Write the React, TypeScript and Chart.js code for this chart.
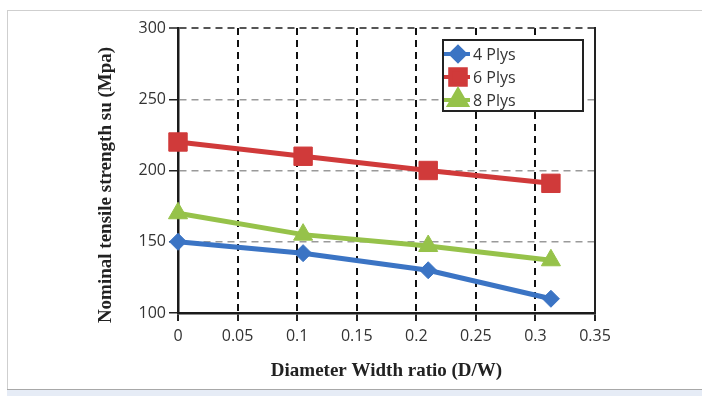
import React, { useEffect, useRef } from 'react';
import { Chart, registerables } from 'chart.js';
import { drawPoint } from 'chart.js/helpers';

Chart.register(...registerables);

const ratios = [0, 0.105, 0.21, 0.313];
const plys4 = [150, 142, 130, 110];
const plys6 = [220, 210, 200, 191];
const plys8 = [170, 155, 147, 137];
const seriesLabels = ['4 Plys', '6 Plys', '8 Plys'];
const xTickLabels = ['0', '0.05', '0.1', '0.15', '0.2', '0.25', '0.3', '0.35'];
const yTickLabels = ['100', '150', '200', '250', '300'];
const xTitle = 'Diameter Width ratio (D/W)';
const yTitle = 'Nominal tensile strength su (Mpa)';

const toPoints = (ys: number[]) => ys.map((y, i) => ({ x: ratios[i], y }));

const boxLegend = {
  id: 'boxLegend',
  afterDatasetsDraw(chart: any) {
    const ctx = chart.ctx;
    const x0 = 443, y0 = 40, w = 140, h = 71;
    ctx.save();
    ctx.fillStyle = '#ffffff';
    ctx.fillRect(x0, y0, w, h);
    ctx.strokeStyle = '#222';
    ctx.lineWidth = 2;
    ctx.strokeRect(x0, y0, w, h);
    chart.data.datasets.forEach((ds: any, i: number) => {
      const y = y0 + 14 + i * 23;
      ctx.strokeStyle = ds.borderColor;
      ctx.lineWidth = 4;
      ctx.beginPath();
      ctx.moveTo(x0 + 1, y);
      ctx.lineTo(x0 + 27, y);
      ctx.stroke();
      ctx.fillStyle = ds.pointBackgroundColor;
      ctx.strokeStyle = ds.pointBorderColor;
      drawPoint(ctx, { pointStyle: ds.pointStyle, radius: ds.legendRadius, borderWidth: 1, rotation: 0 } as any, x0 + 15, y);
      ctx.fillStyle = '#333';
      ctx.font = '16px "Open Sans"';
      ctx.textBaseline = 'middle';
      ctx.textAlign = 'left';
      ctx.fillText(ds.label, x0 + 30, y + 1);
    });
    ctx.restore();
  },
};

const yTitlePlugin = {
  id: 'yTitlePlugin',
  afterDraw(chart: any) {
    const ctx = chart.ctx;
    ctx.save();
    ctx.translate(106, 185);
    ctx.rotate(-Math.PI / 2);
    ctx.font = 'bold 19px "Liberation Serif"';
    ctx.fillStyle = '#222';
    ctx.textAlign = 'center';
    ctx.textBaseline = 'middle';
    ctx.fillText(yTitle, 0, 0);
    ctx.restore();
  },
};

export default function App() {
  const ref = useRef<HTMLCanvasElement>(null);
  useEffect(() => {
    if (!ref.current) return;
    const mk = (label: string, data: number[], color: string, style: string, r: number, lr: number) => ({
      label,
      data: toPoints(data),
      borderColor: color,
      backgroundColor: color,
      pointBackgroundColor: color,
      pointBorderColor: color,
      pointStyle: style,
      pointRadius: r,
      pointBorderWidth: 1,
      borderWidth: 5,
      showLine: true,
      clip: false,
      legendRadius: lr,
    });
    const chart = new Chart(ref.current, {
      type: 'scatter',
      data: {
        datasets: [
          mk(seriesLabels[0], plys4, '#3b74c4', 'rectRot', 8.5, 7),
          mk(seriesLabels[1], plys6, '#d03a3a', 'rect', 13, 11),
          mk(seriesLabels[2], plys8, '#96c24a', 'triangle', 11, 10),
        ] as any,
      },
      options: {
        responsive: false,
        animation: false,
        layout: { padding: { left: 0, top: 28, right: 107, bottom: 0 } },
        plugins: { legend: { display: false }, tooltip: { enabled: false } },
        scales: {
          x: {
            type: 'linear',
            min: 0,
            max: 0.35,
            afterFit: (s: any) => { s.height = 83; },
            ticks: {
              stepSize: 0.05,
              padding: 6,
              color: '#333',
              font: { family: '"Open Sans"', size: 16 },
              callback: (_v: any, i: number) => xTickLabels[i],
            },
            grid: {
              color: '#111',
              lineWidth: 2,
              tickLength: 8,
              tickColor: '#222',
              tickWidth: 2,
            },
            border: { display: true, color: '#1a1a1a', width: 2.5, dash: [7, 5] },
            title: {
              display: true,
              text: xTitle,
              color: '#222',
              font: { family: '"Liberation Serif"', size: 19, weight: 'bold' },
              padding: { top: 0, bottom: 14 },
            },
          },
          y: {
            type: 'linear',
            min: 100,
            max: 300,
            afterFit: (s: any) => { s.width = 178; },
            ticks: {
              stepSize: 50,
              padding: 3,
              color: '#333',
              font: { family: '"Open Sans"', size: 16 },
              callback: (_v: any, i: number) => yTickLabels[i],
            },
            grid: {
              color: (c: any) => (c.tick && c.tick.value === 100 ? 'rgba(0,0,0,0)' : c.tick && c.tick.value === 300 ? '#555' : '#9a9a9a'),
              lineWidth: (c: any) => (c.tick && c.tick.value === 300 ? 2 : 1.5),
              tickLength: 9,
              tickColor: '#222',
              tickWidth: 1.5,
            },
            border: { display: true, color: '#1a1a1a', width: 2.5, dash: [7, 5] },
          },
          y2: {
            type: 'linear',
            position: 'right',
            min: 100,
            max: 300,
            afterFit: (s: any) => { s.width = 0; },
            ticks: { display: false },
            grid: { drawOnChartArea: false, drawTicks: false },
            border: { display: true, color: '#222', width: 2 },
          },
        },
      } as any,
      plugins: [boxLegend, yTitlePlugin],
    });
    return () => chart.destroy();
  }, []);

  return (
    <div style={{ position: 'absolute', left: 0, top: 0, width: 702, height: 396, background: '#fff', overflow: 'hidden' }}>
      <div style={{ position: 'absolute', left: 7, top: 10, width: 700, height: 380, border: '1px solid #cfcfcf', boxSizing: 'border-box' }} />
      <div style={{ position: 'absolute', left: 7, top: 389, width: 700, height: 7, background: '#e6ecf6', borderTop: '1px solid #a8a8a8', boxSizing: 'border-box' }} />
      <canvas ref={ref} width={702} height={396} style={{ position: 'absolute', left: 0, top: 0, width: 702, height: 396 }} />
    </div>
  );
}
